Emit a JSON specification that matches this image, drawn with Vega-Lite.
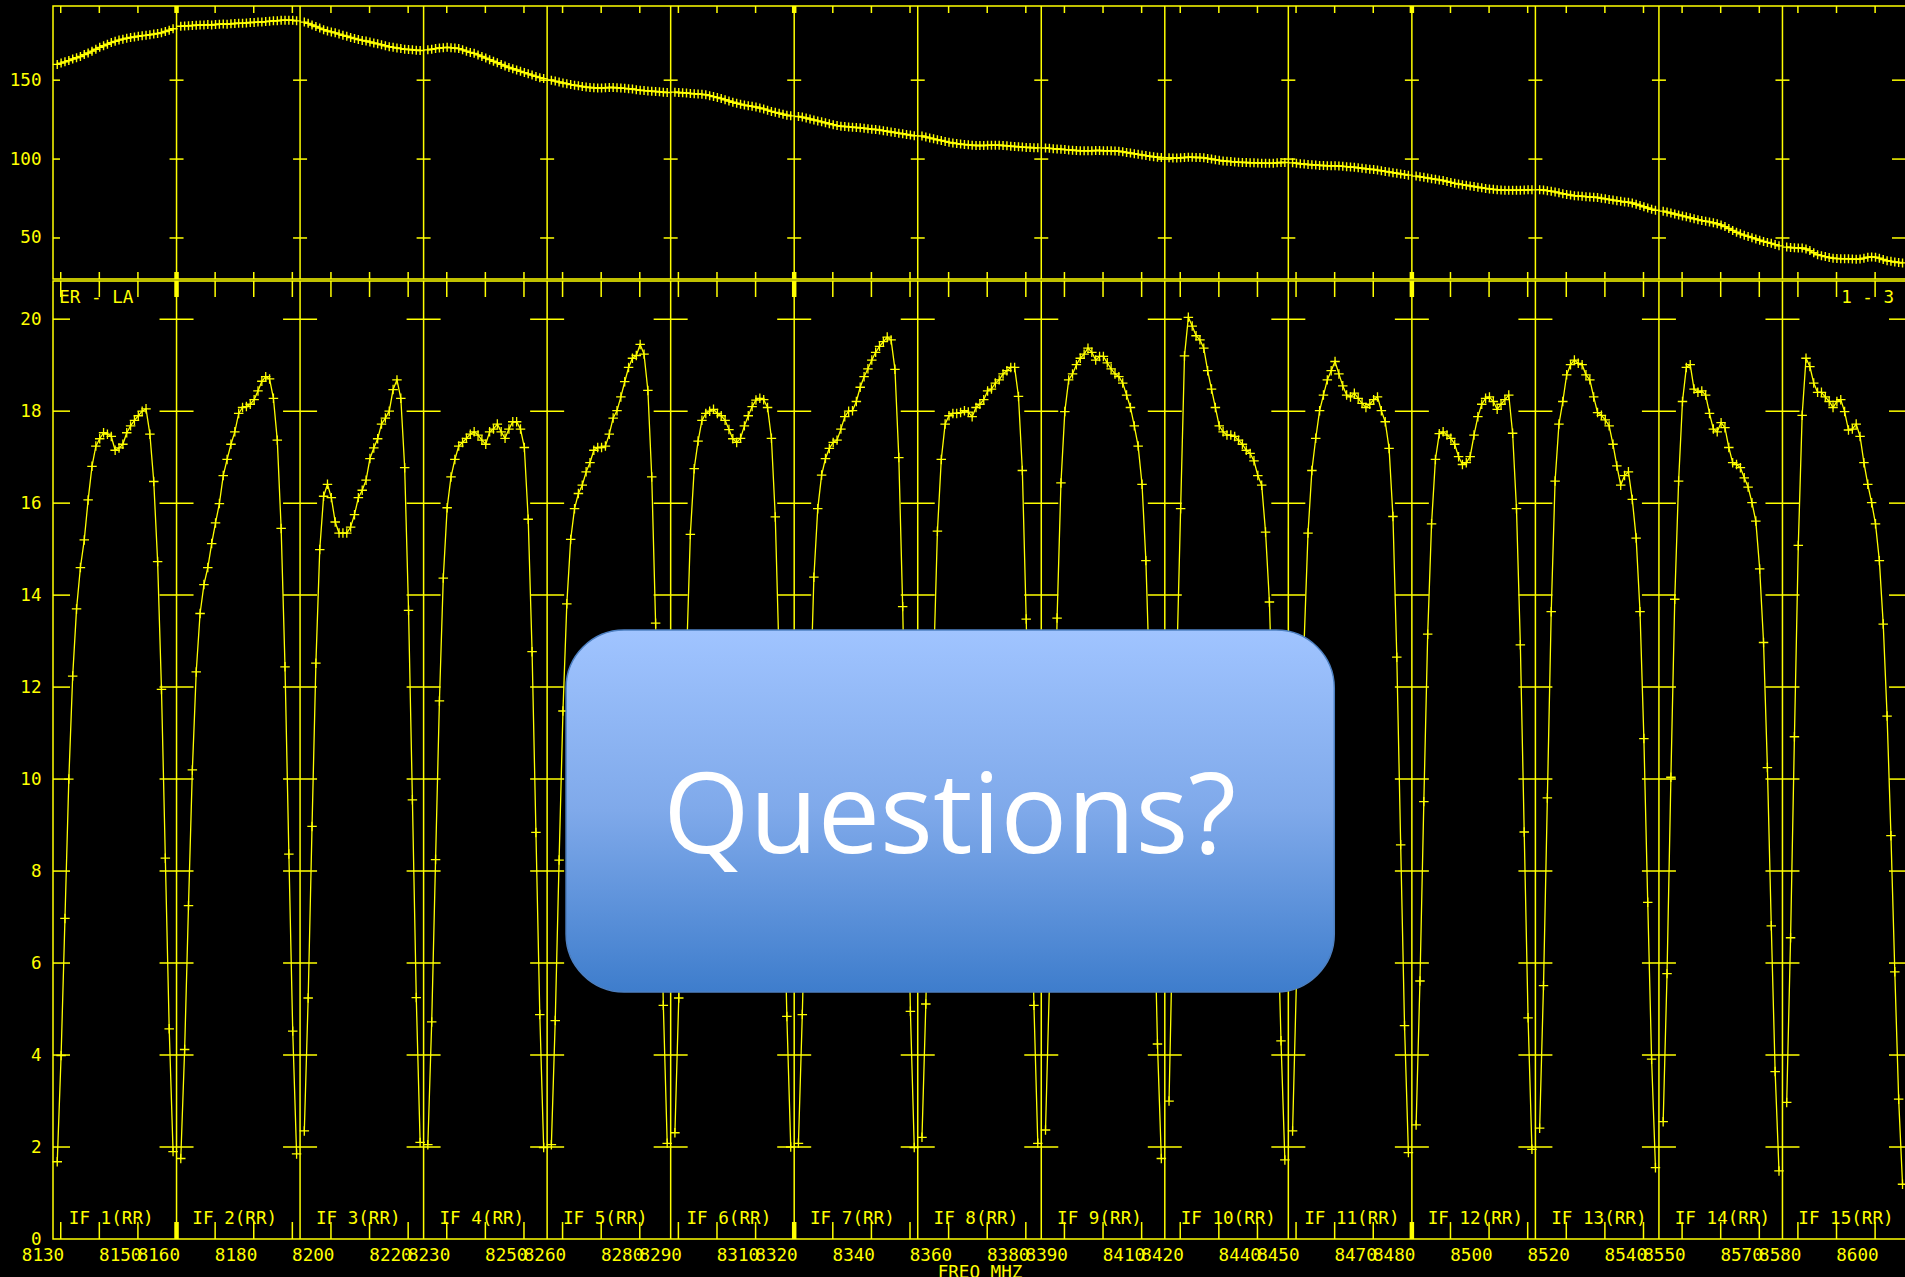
{
"$schema": "https://vega.github.io/schema/vega-lite/v6.json",
"background": "black",
"padding": {"left": 0, "top": 4, "right": 0, "bottom": 0},
"spacing": -6,
"config": {
  "view": {"stroke": "#ffff00", "strokeWidth": 1.5},
  "concat": {"spacing": -6},
  "axis": {"grid": false, "domain": false, "ticks": false, "tickSize": 0, "labelColor": "#ffff00", "labelFont": "DejaVu Sans Mono", "labelFontSize": 17.6, "titleColor": "#ffff00", "titleFont": "DejaVu Sans Mono", "titleFontSize": 17.6, "titleFontWeight": "normal", "labelOverlap": false, "labelFlush": false, "labelBound": false}
},
"datasets": {
  "bd": [{"x":8160},{"x":8192},{"x":8224},{"x":8256},{"x":8288},{"x":8320},{"x":8352},{"x":8384},{"x":8416},{"x":8448},{"x":8480},{"x":8512},{"x":8544},{"x":8576}],
  "xt": [{"x":8130},{"x":8140},{"x":8150},{"x":8160},{"x":8170},{"x":8180},{"x":8190},{"x":8200},{"x":8210},{"x":8220},{"x":8230},{"x":8240},{"x":8250},{"x":8260},{"x":8270},{"x":8280},{"x":8290},{"x":8300},{"x":8310},{"x":8320},{"x":8330},{"x":8340},{"x":8350},{"x":8360},{"x":8370},{"x":8380},{"x":8390},{"x":8400},{"x":8410},{"x":8420},{"x":8430},{"x":8440},{"x":8450},{"x":8460},{"x":8470},{"x":8480},{"x":8490},{"x":8500},{"x":8510},{"x":8520},{"x":8530},{"x":8540},{"x":8550},{"x":8560},{"x":8570},{"x":8580},{"x":8590},{"x":8600}],
  "maj": [{"x":8160},{"x":8320},{"x":8480}],
  "yct": [{"x":[8160,8192,8224,8256,8288,8320,8352,8384,8416,8448,8480,8512,8544,8576],"v":[50,100,150]}],
  "yclt": [{"x":8128,"v":[50,100,150]}],
  "ycrt": [{"x":8608,"v":[50,100,150]}],
  "ycb": [{"x":[8160,8192,8224,8256,8288,8320,8352,8384,8416,8448,8480,8512,8544,8576],"v":[2,4,6,8,10,12,14,16,18,20]}],
  "yclb": [{"x":8128,"v":[2,4,6,8,10,12,14,16,18,20]}],
  "ycrb": [{"x":8608,"v":[2,4,6,8,10,12,14,16,18,20]}],
  "ifl": [{"x":8132.1,"l":"IF 1(RR)"},{"x":8164.1,"l":"IF 2(RR)"},{"x":8196.1,"l":"IF 3(RR)"},{"x":8228.1,"l":"IF 4(RR)"},{"x":8260.1,"l":"IF 5(RR)"},{"x":8292.1,"l":"IF 6(RR)"},{"x":8324.1,"l":"IF 7(RR)"},{"x":8356.1,"l":"IF 8(RR)"},{"x":8388.1,"l":"IF 9(RR)"},{"x":8420.1,"l":"IF 10(RR)"},{"x":8452.1,"l":"IF 11(RR)"},{"x":8484.1,"l":"IF 12(RR)"},{"x":8516.1,"l":"IF 13(RR)"},{"x":8548.1,"l":"IF 14(RR)"},{"x":8580.1,"l":"IF 15(RR)"}],
  "cl": [{"x":8129.6,"l":"ER - LA"},{"x":8591.2,"l":"1 - 3"}],
  "box": [{"x":8260.9,"x2":8459.9,"y":5.37,"y2":13.24}],
  "qt": [{"x":8360.3,"y":8.4,"t":"Questions?"}],
  "spec": [
{"i":1,"x":8129.1,"a":1.68,"p":160.0},{"i":1,"x":8130.1,"a":3.99,"p":160.8},{"i":1,"x":8131.1,"a":6.97,"p":161.6},{"i":1,"x":8132.1,"a":10.0,"p":162.4},{"i":1,"x":8133.1,"a":12.24,"p":163.4},{"i":1,"x":8134.1,"a":13.7,"p":164.2},{"i":1,"x":8135.1,"a":14.6,"p":165.0},{"i":1,"x":8136.1,"a":15.2,"p":166.2},{"i":1,"x":8137.1,"a":16.07,"p":167.2},{"i":1,"x":8138.1,"a":16.8,"p":168.4},{"i":1,"x":8139.1,"a":17.24,"p":169.6},{"i":1,"x":8140.1,"a":17.4,"p":170.8},{"i":1,"x":8141.1,"a":17.53,"p":171.8},{"i":1,"x":8142.1,"a":17.5,"p":172.8},{"i":1,"x":8143.1,"a":17.45,"p":173.8},{"i":1,"x":8144.1,"a":17.15,"p":174.6},{"i":1,"x":8145.1,"a":17.2,"p":175.4},{"i":1,"x":8146.1,"a":17.28,"p":176.0},{"i":1,"x":8147.1,"a":17.53,"p":176.6},{"i":1,"x":8148.1,"a":17.68,"p":177.0},{"i":1,"x":8149.1,"a":17.8,"p":177.4},{"i":1,"x":8150.1,"a":17.9,"p":177.8},{"i":1,"x":8151.1,"a":18.0,"p":178.2},{"i":1,"x":8152.1,"a":18.05,"p":178.4},{"i":1,"x":8153.1,"a":17.5,"p":178.8},{"i":1,"x":8154.1,"a":16.47,"p":179.2},{"i":1,"x":8155.1,"a":14.73,"p":179.6},{"i":1,"x":8156.1,"a":11.95,"p":180.0},{"i":1,"x":8157.1,"a":8.28,"p":180.8},{"i":1,"x":8158.1,"a":4.57,"p":181.6},{"i":1,"x":8159.1,"a":1.9,"p":182.6},
{"i":2,"x":8161.1,"a":1.75,"p":184.2},{"i":2,"x":8162.1,"a":4.12,"p":184.4},{"i":2,"x":8163.1,"a":7.25,"p":184.5},{"i":2,"x":8164.1,"a":10.2,"p":184.6},{"i":2,"x":8165.1,"a":12.33,"p":184.8},{"i":2,"x":8166.1,"a":13.6,"p":184.9},{"i":2,"x":8167.1,"a":14.23,"p":185.0},{"i":2,"x":8168.1,"a":14.6,"p":185.2},{"i":2,"x":8169.1,"a":15.12,"p":185.0},{"i":2,"x":8170.1,"a":15.57,"p":185.3},{"i":2,"x":8171.1,"a":15.99,"p":185.5},{"i":2,"x":8172.1,"a":16.6,"p":185.6},{"i":2,"x":8173.1,"a":16.95,"p":185.4},{"i":2,"x":8174.1,"a":17.28,"p":185.7},{"i":2,"x":8175.1,"a":17.55,"p":185.9},{"i":2,"x":8176.1,"a":17.95,"p":186.1},{"i":2,"x":8177.1,"a":18.08,"p":186.0},{"i":2,"x":8178.1,"a":18.1,"p":186.3},{"i":2,"x":8179.1,"a":18.15,"p":186.5},{"i":2,"x":8180.1,"a":18.25,"p":186.6},{"i":2,"x":8181.1,"a":18.44,"p":186.8},{"i":2,"x":8182.1,"a":18.65,"p":186.9},{"i":2,"x":8183.1,"a":18.75,"p":187.1},{"i":2,"x":8184.1,"a":18.7,"p":187.4},{"i":2,"x":8185.1,"a":18.28,"p":187.6},{"i":2,"x":8186.1,"a":17.37,"p":187.7},{"i":2,"x":8187.1,"a":15.45,"p":187.9},{"i":2,"x":8188.1,"a":12.44,"p":188.0},{"i":2,"x":8189.1,"a":8.37,"p":188.0},{"i":2,"x":8190.1,"a":4.52,"p":187.9},{"i":2,"x":8191.1,"a":1.85,"p":187.6},
{"i":3,"x":8193.1,"a":2.35,"p":186.8},{"i":3,"x":8194.1,"a":5.24,"p":186.0},{"i":3,"x":8195.1,"a":8.97,"p":185.0},{"i":3,"x":8196.1,"a":12.52,"p":184.0},{"i":3,"x":8197.1,"a":14.99,"p":183.0},{"i":3,"x":8198.1,"a":16.15,"p":182.0},{"i":3,"x":8199.1,"a":16.41,"p":181.2},{"i":3,"x":8200.1,"a":16.12,"p":180.6},{"i":3,"x":8201.1,"a":15.59,"p":180.0},{"i":3,"x":8202.1,"a":15.35,"p":179.2},{"i":3,"x":8203.1,"a":15.35,"p":178.4},{"i":3,"x":8204.1,"a":15.35,"p":177.8},{"i":3,"x":8205.1,"a":15.48,"p":177.0},{"i":3,"x":8206.1,"a":15.75,"p":176.4},{"i":3,"x":8207.1,"a":16.12,"p":175.8},{"i":3,"x":8208.1,"a":16.28,"p":175.2},{"i":3,"x":8209.1,"a":16.5,"p":174.8},{"i":3,"x":8210.1,"a":16.97,"p":174.2},{"i":3,"x":8211.1,"a":17.2,"p":173.6},{"i":3,"x":8212.1,"a":17.4,"p":173.0},{"i":3,"x":8213.1,"a":17.72,"p":172.4},{"i":3,"x":8214.1,"a":17.85,"p":171.8},{"i":3,"x":8215.1,"a":18.0,"p":171.2},{"i":3,"x":8216.1,"a":18.47,"p":170.8},{"i":3,"x":8217.1,"a":18.68,"p":170.4},{"i":3,"x":8218.1,"a":18.28,"p":170.0},{"i":3,"x":8219.1,"a":16.77,"p":169.6},{"i":3,"x":8220.1,"a":13.67,"p":169.4},{"i":3,"x":8221.1,"a":9.55,"p":169.2},{"i":3,"x":8222.1,"a":5.25,"p":169.0},{"i":3,"x":8223.1,"a":2.1,"p":168.8},
{"i":4,"x":8225.1,"a":2.05,"p":169.2},{"i":4,"x":8226.1,"a":4.72,"p":169.6},{"i":4,"x":8227.1,"a":8.25,"p":170.0},{"i":4,"x":8228.1,"a":11.7,"p":170.4},{"i":4,"x":8229.1,"a":14.37,"p":170.6},{"i":4,"x":8230.1,"a":15.9,"p":170.8},{"i":4,"x":8231.1,"a":16.57,"p":170.6},{"i":4,"x":8232.1,"a":16.95,"p":170.4},{"i":4,"x":8233.1,"a":17.24,"p":170.0},{"i":4,"x":8234.1,"a":17.32,"p":169.2},{"i":4,"x":8235.1,"a":17.41,"p":168.4},{"i":4,"x":8236.1,"a":17.5,"p":167.6},{"i":4,"x":8237.1,"a":17.55,"p":167.0},{"i":4,"x":8238.1,"a":17.48,"p":166.0},{"i":4,"x":8239.1,"a":17.37,"p":165.0},{"i":4,"x":8240.1,"a":17.28,"p":164.0},{"i":4,"x":8241.1,"a":17.55,"p":163.0},{"i":4,"x":8242.1,"a":17.61,"p":162.0},{"i":4,"x":8243.1,"a":17.72,"p":161.0},{"i":4,"x":8244.1,"a":17.55,"p":160.0},{"i":4,"x":8245.1,"a":17.41,"p":159.0},{"i":4,"x":8246.1,"a":17.61,"p":158.0},{"i":4,"x":8247.1,"a":17.77,"p":157.2},{"i":4,"x":8248.1,"a":17.77,"p":156.4},{"i":4,"x":8249.1,"a":17.61,"p":155.6},{"i":4,"x":8250.1,"a":17.21,"p":154.8},{"i":4,"x":8251.1,"a":15.65,"p":154.0},{"i":4,"x":8252.1,"a":12.77,"p":153.2},{"i":4,"x":8253.1,"a":8.84,"p":152.4},{"i":4,"x":8254.1,"a":4.88,"p":151.6},{"i":4,"x":8255.1,"a":1.99,"p":151.0},
{"i":5,"x":8257.1,"a":2.05,"p":150.0},{"i":5,"x":8258.1,"a":4.75,"p":149.4},{"i":5,"x":8259.1,"a":8.24,"p":148.8},{"i":5,"x":8260.1,"a":11.48,"p":148.2},{"i":5,"x":8261.1,"a":13.81,"p":147.8},{"i":5,"x":8262.1,"a":15.21,"p":147.2},{"i":5,"x":8263.1,"a":15.88,"p":146.8},{"i":5,"x":8264.1,"a":16.21,"p":146.4},{"i":5,"x":8265.1,"a":16.39,"p":146.0},{"i":5,"x":8266.1,"a":16.68,"p":145.6},{"i":5,"x":8267.1,"a":16.88,"p":145.4},{"i":5,"x":8268.1,"a":17.15,"p":145.2},{"i":5,"x":8269.1,"a":17.21,"p":145.0},{"i":5,"x":8270.1,"a":17.21,"p":145.0},{"i":5,"x":8271.1,"a":17.24,"p":145.2},{"i":5,"x":8272.1,"a":17.5,"p":145.4},{"i":5,"x":8273.1,"a":17.85,"p":145.4},{"i":5,"x":8274.1,"a":18.01,"p":145.2},{"i":5,"x":8275.1,"a":18.31,"p":145.0},{"i":5,"x":8276.1,"a":18.64,"p":144.8},{"i":5,"x":8277.1,"a":18.95,"p":144.6},{"i":5,"x":8278.1,"a":19.15,"p":144.4},{"i":5,"x":8279.1,"a":19.21,"p":144.0},{"i":5,"x":8280.1,"a":19.45,"p":143.6},{"i":5,"x":8281.1,"a":19.24,"p":143.4},{"i":5,"x":8282.1,"a":18.45,"p":143.2},{"i":5,"x":8283.1,"a":16.57,"p":143.0},{"i":5,"x":8284.1,"a":13.39,"p":142.8},{"i":5,"x":8285.1,"a":9.48,"p":142.6},{"i":5,"x":8286.1,"a":5.08,"p":142.4},{"i":5,"x":8287.1,"a":2.08,"p":142.2},
{"i":6,"x":8289.1,"a":2.31,"p":142.4},{"i":6,"x":8290.1,"a":5.24,"p":142.2},{"i":6,"x":8291.1,"a":8.8,"p":142.0},{"i":6,"x":8292.1,"a":12.6,"p":141.8},{"i":6,"x":8293.1,"a":15.32,"p":141.6},{"i":6,"x":8294.1,"a":16.75,"p":141.4},{"i":6,"x":8295.1,"a":17.35,"p":141.2},{"i":6,"x":8296.1,"a":17.8,"p":141.0},{"i":6,"x":8297.1,"a":17.95,"p":140.8},{"i":6,"x":8298.1,"a":18.0,"p":140.2},{"i":6,"x":8299.1,"a":18.04,"p":139.6},{"i":6,"x":8300.1,"a":17.95,"p":139.0},{"i":6,"x":8301.1,"a":17.9,"p":138.4},{"i":6,"x":8302.1,"a":17.8,"p":137.6},{"i":6,"x":8303.1,"a":17.6,"p":136.8},{"i":6,"x":8304.1,"a":17.4,"p":136.0},{"i":6,"x":8305.1,"a":17.32,"p":135.4},{"i":6,"x":8306.1,"a":17.41,"p":134.8},{"i":6,"x":8307.1,"a":17.68,"p":134.2},{"i":6,"x":8308.1,"a":17.9,"p":133.8},{"i":6,"x":8309.1,"a":18.1,"p":133.4},{"i":6,"x":8310.1,"a":18.24,"p":133.0},{"i":6,"x":8311.1,"a":18.28,"p":132.4},{"i":6,"x":8312.1,"a":18.25,"p":131.8},{"i":6,"x":8313.1,"a":18.08,"p":131.0},{"i":6,"x":8314.1,"a":17.41,"p":130.2},{"i":6,"x":8315.1,"a":15.7,"p":129.6},{"i":6,"x":8316.1,"a":12.6,"p":129.0},{"i":6,"x":8317.1,"a":8.5,"p":128.4},{"i":6,"x":8318.1,"a":4.84,"p":127.8},{"i":6,"x":8319.1,"a":2.0,"p":127.4},
{"i":7,"x":8321.1,"a":2.08,"p":127.0},{"i":7,"x":8322.1,"a":4.88,"p":126.6},{"i":7,"x":8323.1,"a":8.3,"p":126.0},{"i":7,"x":8324.1,"a":11.5,"p":125.4},{"i":7,"x":8325.1,"a":14.39,"p":124.8},{"i":7,"x":8326.1,"a":15.88,"p":124.2},{"i":7,"x":8327.1,"a":16.61,"p":123.6},{"i":7,"x":8328.1,"a":16.97,"p":123.0},{"i":7,"x":8329.1,"a":17.19,"p":122.4},{"i":7,"x":8330.1,"a":17.32,"p":121.8},{"i":7,"x":8331.1,"a":17.37,"p":121.2},{"i":7,"x":8332.1,"a":17.61,"p":120.8},{"i":7,"x":8333.1,"a":17.88,"p":120.6},{"i":7,"x":8334.1,"a":18.0,"p":120.4},{"i":7,"x":8335.1,"a":18.01,"p":120.2},{"i":7,"x":8336.1,"a":18.21,"p":120.0},{"i":7,"x":8337.1,"a":18.52,"p":119.8},{"i":7,"x":8338.1,"a":18.75,"p":119.6},{"i":7,"x":8339.1,"a":18.92,"p":119.2},{"i":7,"x":8340.1,"a":19.11,"p":118.9},{"i":7,"x":8341.1,"a":19.28,"p":118.7},{"i":7,"x":8342.1,"a":19.41,"p":118.4},{"i":7,"x":8343.1,"a":19.51,"p":118.0},{"i":7,"x":8344.1,"a":19.61,"p":117.6},{"i":7,"x":8345.1,"a":19.55,"p":117.2},{"i":7,"x":8346.1,"a":18.91,"p":116.8},{"i":7,"x":8347.1,"a":16.99,"p":116.4},{"i":7,"x":8348.1,"a":13.75,"p":116.0},{"i":7,"x":8349.1,"a":9.5,"p":115.6},{"i":7,"x":8350.1,"a":4.95,"p":115.2},{"i":7,"x":8351.1,"a":1.99,"p":114.8},
{"i":8,"x":8353.1,"a":2.21,"p":114.6},{"i":8,"x":8354.1,"a":5.11,"p":114.0},{"i":8,"x":8355.1,"a":8.8,"p":113.4},{"i":8,"x":8356.1,"a":12.4,"p":112.8},{"i":8,"x":8357.1,"a":15.39,"p":112.2},{"i":8,"x":8358.1,"a":16.95,"p":111.8},{"i":8,"x":8359.1,"a":17.72,"p":111.2},{"i":8,"x":8360.1,"a":17.9,"p":110.6},{"i":8,"x":8361.1,"a":17.95,"p":110.2},{"i":8,"x":8362.1,"a":17.95,"p":109.8},{"i":8,"x":8363.1,"a":17.97,"p":109.5},{"i":8,"x":8364.1,"a":18.01,"p":109.2},{"i":8,"x":8365.1,"a":17.98,"p":109.0},{"i":8,"x":8366.1,"a":17.88,"p":108.8},{"i":8,"x":8367.1,"a":18.08,"p":108.6},{"i":8,"x":8368.1,"a":18.15,"p":108.6},{"i":8,"x":8369.1,"a":18.25,"p":108.6},{"i":8,"x":8370.1,"a":18.44,"p":108.7},{"i":8,"x":8371.1,"a":18.48,"p":108.8},{"i":8,"x":8372.1,"a":18.61,"p":108.8},{"i":8,"x":8373.1,"a":18.68,"p":108.8},{"i":8,"x":8374.1,"a":18.81,"p":108.6},{"i":8,"x":8375.1,"a":18.88,"p":108.4},{"i":8,"x":8376.1,"a":18.95,"p":108.2},{"i":8,"x":8377.1,"a":18.95,"p":108.0},{"i":8,"x":8378.1,"a":18.32,"p":107.8},{"i":8,"x":8379.1,"a":16.71,"p":107.6},{"i":8,"x":8380.1,"a":13.48,"p":107.4},{"i":8,"x":8381.1,"a":9.3,"p":107.3},{"i":8,"x":8382.1,"a":5.08,"p":107.2},{"i":8,"x":8383.1,"a":2.08,"p":107.1},
{"i":9,"x":8385.1,"a":2.37,"p":107.0},{"i":9,"x":8386.1,"a":5.5,"p":106.8},{"i":9,"x":8387.1,"a":9.0,"p":106.6},{"i":9,"x":8388.1,"a":13.5,"p":106.4},{"i":9,"x":8389.1,"a":16.44,"p":106.2},{"i":9,"x":8390.1,"a":17.99,"p":106.0},{"i":9,"x":8391.1,"a":18.68,"p":105.8},{"i":9,"x":8392.1,"a":18.81,"p":105.6},{"i":9,"x":8393.1,"a":19.01,"p":105.4},{"i":9,"x":8394.1,"a":19.15,"p":105.3},{"i":9,"x":8395.1,"a":19.24,"p":105.2},{"i":9,"x":8396.1,"a":19.37,"p":105.2},{"i":9,"x":8397.1,"a":19.28,"p":105.3},{"i":9,"x":8398.1,"a":19.11,"p":105.4},{"i":9,"x":8399.1,"a":19.19,"p":105.4},{"i":9,"x":8400.1,"a":19.19,"p":105.3},{"i":9,"x":8401.1,"a":19.05,"p":105.2},{"i":9,"x":8402.1,"a":18.92,"p":105.2},{"i":9,"x":8403.1,"a":18.81,"p":105.1},{"i":9,"x":8404.1,"a":18.75,"p":105.0},{"i":9,"x":8405.1,"a":18.61,"p":104.6},{"i":9,"x":8406.1,"a":18.35,"p":104.2},{"i":9,"x":8407.1,"a":18.08,"p":103.8},{"i":9,"x":8408.1,"a":17.68,"p":103.4},{"i":9,"x":8409.1,"a":17.24,"p":103.0},{"i":9,"x":8410.1,"a":16.41,"p":102.6},{"i":9,"x":8411.1,"a":14.75,"p":102.2},{"i":9,"x":8412.1,"a":12.0,"p":101.8},{"i":9,"x":8413.1,"a":8.0,"p":101.5},{"i":9,"x":8414.1,"a":4.24,"p":101.2},{"i":9,"x":8415.1,"a":1.75,"p":101.0},
{"i":10,"x":8417.1,"a":3.0,"p":100.8},{"i":10,"x":8418.1,"a":7.0,"p":100.6},{"i":10,"x":8419.1,"a":12.5,"p":100.6},{"i":10,"x":8420.1,"a":15.88,"p":100.8},{"i":10,"x":8421.1,"a":19.2,"p":101.0},{"i":10,"x":8422.1,"a":20.04,"p":101.2},{"i":10,"x":8423.1,"a":19.85,"p":101.2},{"i":10,"x":8424.1,"a":19.64,"p":101.0},{"i":10,"x":8425.1,"a":19.55,"p":101.0},{"i":10,"x":8426.1,"a":19.37,"p":100.8},{"i":10,"x":8427.1,"a":18.88,"p":100.4},{"i":10,"x":8428.1,"a":18.48,"p":100.0},{"i":10,"x":8429.1,"a":18.08,"p":99.6},{"i":10,"x":8430.1,"a":17.68,"p":99.2},{"i":10,"x":8431.1,"a":17.55,"p":98.8},{"i":10,"x":8432.1,"a":17.48,"p":98.6},{"i":10,"x":8433.1,"a":17.48,"p":98.4},{"i":10,"x":8434.1,"a":17.45,"p":98.2},{"i":10,"x":8435.1,"a":17.37,"p":98.0},{"i":10,"x":8436.1,"a":17.28,"p":97.9},{"i":10,"x":8437.1,"a":17.15,"p":97.8},{"i":10,"x":8438.1,"a":17.08,"p":97.7},{"i":10,"x":8439.1,"a":16.92,"p":97.6},{"i":10,"x":8440.1,"a":16.6,"p":97.5},{"i":10,"x":8441.1,"a":16.39,"p":97.4},{"i":10,"x":8442.1,"a":15.37,"p":97.4},{"i":10,"x":8443.1,"a":13.85,"p":97.3},{"i":10,"x":8444.1,"a":11.0,"p":97.4},{"i":10,"x":8445.1,"a":7.5,"p":97.6},{"i":10,"x":8446.1,"a":4.31,"p":97.8},{"i":10,"x":8447.1,"a":1.72,"p":97.8},
{"i":11,"x":8449.1,"a":2.35,"p":97.6},{"i":11,"x":8450.1,"a":5.6,"p":97.4},{"i":11,"x":8451.1,"a":9.5,"p":97.0},{"i":11,"x":8452.1,"a":13.0,"p":96.8},{"i":11,"x":8453.1,"a":15.35,"p":96.6},{"i":11,"x":8454.1,"a":16.71,"p":96.4},{"i":11,"x":8455.1,"a":17.41,"p":96.2},{"i":11,"x":8456.1,"a":18.01,"p":96.0},{"i":11,"x":8457.1,"a":18.35,"p":95.9},{"i":11,"x":8458.1,"a":18.68,"p":95.8},{"i":11,"x":8459.1,"a":18.88,"p":95.7},{"i":11,"x":8460.1,"a":19.08,"p":95.7},{"i":11,"x":8461.1,"a":18.81,"p":95.6},{"i":11,"x":8462.1,"a":18.55,"p":95.4},{"i":11,"x":8463.1,"a":18.35,"p":95.2},{"i":11,"x":8464.1,"a":18.31,"p":95.0},{"i":11,"x":8465.1,"a":18.39,"p":94.8},{"i":11,"x":8466.1,"a":18.28,"p":94.5},{"i":11,"x":8467.1,"a":18.17,"p":94.2},{"i":11,"x":8468.1,"a":18.08,"p":93.9},{"i":11,"x":8469.1,"a":18.15,"p":93.6},{"i":11,"x":8470.1,"a":18.25,"p":93.4},{"i":11,"x":8471.1,"a":18.31,"p":93.0},{"i":11,"x":8472.1,"a":18.01,"p":92.6},{"i":11,"x":8473.1,"a":17.77,"p":92.2},{"i":11,"x":8474.1,"a":17.19,"p":91.8},{"i":11,"x":8475.1,"a":15.71,"p":91.4},{"i":11,"x":8476.1,"a":12.65,"p":91.0},{"i":11,"x":8477.1,"a":8.57,"p":90.6},{"i":11,"x":8478.1,"a":4.64,"p":90.2},{"i":11,"x":8479.1,"a":1.88,"p":89.8},
{"i":12,"x":8481.1,"a":2.48,"p":89.2},{"i":12,"x":8482.1,"a":5.61,"p":88.8},{"i":12,"x":8483.1,"a":9.51,"p":88.4},{"i":12,"x":8484.1,"a":13.15,"p":88.0},{"i":12,"x":8485.1,"a":15.55,"p":87.6},{"i":12,"x":8486.1,"a":16.95,"p":87.2},{"i":12,"x":8487.1,"a":17.51,"p":86.8},{"i":12,"x":8488.1,"a":17.55,"p":86.4},{"i":12,"x":8489.1,"a":17.48,"p":85.8},{"i":12,"x":8490.1,"a":17.41,"p":85.2},{"i":12,"x":8491.1,"a":17.28,"p":84.6},{"i":12,"x":8492.1,"a":17.01,"p":84.2},{"i":12,"x":8493.1,"a":16.84,"p":83.8},{"i":12,"x":8494.1,"a":16.88,"p":83.4},{"i":12,"x":8495.1,"a":17.01,"p":83.0},{"i":12,"x":8496.1,"a":17.48,"p":82.6},{"i":12,"x":8497.1,"a":17.88,"p":82.2},{"i":12,"x":8498.1,"a":18.15,"p":81.8},{"i":12,"x":8499.1,"a":18.28,"p":81.4},{"i":12,"x":8500.1,"a":18.31,"p":81.1},{"i":12,"x":8501.1,"a":18.21,"p":80.8},{"i":12,"x":8502.1,"a":18.04,"p":80.6},{"i":12,"x":8503.1,"a":18.15,"p":80.4},{"i":12,"x":8504.1,"a":18.25,"p":80.3},{"i":12,"x":8505.1,"a":18.35,"p":80.2},{"i":12,"x":8506.1,"a":17.52,"p":80.2},{"i":12,"x":8507.1,"a":15.88,"p":80.2},{"i":12,"x":8508.1,"a":12.92,"p":80.3},{"i":12,"x":8509.1,"a":8.85,"p":80.4},{"i":12,"x":8510.1,"a":4.81,"p":80.5},{"i":12,"x":8511.1,"a":1.95,"p":80.5},
{"i":13,"x":8513.1,"a":2.41,"p":80.6},{"i":13,"x":8514.1,"a":5.51,"p":80.4},{"i":13,"x":8515.1,"a":9.59,"p":80.0},{"i":13,"x":8516.1,"a":13.64,"p":79.6},{"i":13,"x":8517.1,"a":16.48,"p":79.2},{"i":13,"x":8518.1,"a":17.72,"p":78.6},{"i":13,"x":8519.1,"a":18.21,"p":78.0},{"i":13,"x":8520.1,"a":18.79,"p":77.6},{"i":13,"x":8521.1,"a":19.01,"p":77.2},{"i":13,"x":8522.1,"a":19.11,"p":76.8},{"i":13,"x":8523.1,"a":19.04,"p":76.6},{"i":13,"x":8524.1,"a":19.01,"p":76.4},{"i":13,"x":8525.1,"a":18.79,"p":76.2},{"i":13,"x":8526.1,"a":18.68,"p":76.0},{"i":13,"x":8527.1,"a":18.31,"p":75.8},{"i":13,"x":8528.1,"a":17.97,"p":75.6},{"i":13,"x":8529.1,"a":17.91,"p":75.2},{"i":13,"x":8530.1,"a":17.81,"p":74.8},{"i":13,"x":8531.1,"a":17.68,"p":74.4},{"i":13,"x":8532.1,"a":17.28,"p":74.0},{"i":13,"x":8533.1,"a":16.81,"p":73.6},{"i":13,"x":8534.1,"a":16.39,"p":73.2},{"i":13,"x":8535.1,"a":16.6,"p":72.8},{"i":13,"x":8536.1,"a":16.68,"p":72.6},{"i":13,"x":8537.1,"a":16.08,"p":72.2},{"i":13,"x":8538.1,"a":15.24,"p":71.4},{"i":13,"x":8539.1,"a":13.64,"p":70.6},{"i":13,"x":8540.1,"a":10.88,"p":69.8},{"i":13,"x":8541.1,"a":7.32,"p":69.0},{"i":13,"x":8542.1,"a":3.91,"p":68.2},{"i":13,"x":8543.1,"a":1.55,"p":67.6},
{"i":14,"x":8545.1,"a":2.55,"p":67.0},{"i":14,"x":8546.1,"a":5.77,"p":66.4},{"i":14,"x":8547.1,"a":10.04,"p":65.8},{"i":14,"x":8548.1,"a":13.91,"p":65.2},{"i":14,"x":8549.1,"a":16.48,"p":64.6},{"i":14,"x":8550.1,"a":18.21,"p":64.0},{"i":14,"x":8551.1,"a":18.95,"p":63.4},{"i":14,"x":8552.1,"a":19.01,"p":62.8},{"i":14,"x":8553.1,"a":18.48,"p":62.2},{"i":14,"x":8554.1,"a":18.41,"p":61.6},{"i":14,"x":8555.1,"a":18.44,"p":61.0},{"i":14,"x":8556.1,"a":18.35,"p":60.6},{"i":14,"x":8557.1,"a":17.95,"p":60.2},{"i":14,"x":8558.1,"a":17.61,"p":59.6},{"i":14,"x":8559.1,"a":17.55,"p":59.0},{"i":14,"x":8560.1,"a":17.75,"p":58.2},{"i":14,"x":8561.1,"a":17.64,"p":57.2},{"i":14,"x":8562.1,"a":17.21,"p":56.0},{"i":14,"x":8563.1,"a":16.88,"p":54.8},{"i":14,"x":8564.1,"a":16.84,"p":53.6},{"i":14,"x":8565.1,"a":16.77,"p":52.6},{"i":14,"x":8566.1,"a":16.55,"p":51.8},{"i":14,"x":8567.1,"a":16.35,"p":51.0},{"i":14,"x":8568.1,"a":16.01,"p":50.2},{"i":14,"x":8569.1,"a":15.61,"p":49.4},{"i":14,"x":8570.1,"a":14.57,"p":48.6},{"i":14,"x":8571.1,"a":12.97,"p":47.8},{"i":14,"x":8572.1,"a":10.25,"p":47.2},{"i":14,"x":8573.1,"a":6.81,"p":46.6},{"i":14,"x":8574.1,"a":3.64,"p":45.8},{"i":14,"x":8575.1,"a":1.48,"p":45.0},
{"i":15,"x":8577.1,"a":2.97,"p":44.2},{"i":15,"x":8578.1,"a":6.55,"p":44.0},{"i":15,"x":8579.1,"a":10.92,"p":43.8},{"i":15,"x":8580.1,"a":15.08,"p":43.7},{"i":15,"x":8581.1,"a":17.91,"p":43.6},{"i":15,"x":8582.1,"a":19.15,"p":43.0},{"i":15,"x":8583.1,"a":18.97,"p":42.0},{"i":15,"x":8584.1,"a":18.61,"p":40.6},{"i":15,"x":8585.1,"a":18.41,"p":39.4},{"i":15,"x":8586.1,"a":18.41,"p":38.8},{"i":15,"x":8587.1,"a":18.31,"p":38.2},{"i":15,"x":8588.1,"a":18.21,"p":37.6},{"i":15,"x":8589.1,"a":18.08,"p":37.2},{"i":15,"x":8590.1,"a":18.21,"p":37.0},{"i":15,"x":8591.1,"a":18.25,"p":36.9},{"i":15,"x":8592.1,"a":17.99,"p":36.8},{"i":15,"x":8593.1,"a":17.59,"p":36.8},{"i":15,"x":8594.1,"a":17.61,"p":36.6},{"i":15,"x":8595.1,"a":17.72,"p":36.5},{"i":15,"x":8596.1,"a":17.45,"p":36.6},{"i":15,"x":8597.1,"a":16.88,"p":37.2},{"i":15,"x":8598.1,"a":16.41,"p":37.8},{"i":15,"x":8599.1,"a":16.01,"p":38.0},{"i":15,"x":8600.1,"a":15.55,"p":37.8},{"i":15,"x":8601.1,"a":14.75,"p":37.2},{"i":15,"x":8602.1,"a":13.37,"p":36.4},{"i":15,"x":8603.1,"a":11.37,"p":35.6},{"i":15,"x":8604.1,"a":8.77,"p":35.2},{"i":15,"x":8605.1,"a":5.81,"p":34.8},{"i":15,"x":8606.1,"a":3.04,"p":34.5},{"i":15,"x":8607.1,"a":1.19,"p":34.2}
  ]
},
"vconcat": [
  {
    "width": 1853,
    "height": 273,
    "encoding": {"x": {"field": "x", "type": "quantitative", "scale": {"domain": [8128, 8608], "nice": false, "zero": false}, "axis": null}},
    "layer": [
      {"data": {"name": "bd"}, "mark": {"type": "rule", "color": "#ffff00", "strokeWidth": 1.5}, "encoding": {}},
      {"data": {"name": "xt"}, "mark": {"type": "tick", "orient": "vertical", "size": 7, "yOffset": 3.5, "thickness": 1.5, "color": "#ffff00", "opacity": 1},
       "encoding": {"y": {"datum": 197, "type": "quantitative", "scale": {"domain": [24, 197], "nice": false, "zero": false}, "axis": {"title": null}}}},
      {"data": {"name": "xt"}, "mark": {"type": "tick", "orient": "vertical", "size": 7, "yOffset": -3.5, "thickness": 1.5, "color": "#ffff00", "opacity": 1},
       "encoding": {"y": {"datum": 24, "type": "quantitative", "axis": {"title": null}}}},
      {"data": {"name": "maj"}, "mark": {"type": "tick", "orient": "vertical", "size": 7, "yOffset": 3.5, "thickness": 4.5, "color": "#ffff00", "opacity": 1},
       "encoding": {"y": {"datum": 197, "type": "quantitative", "axis": {"title": null}}}},
      {"data": {"name": "maj"}, "mark": {"type": "tick", "orient": "vertical", "size": 7, "yOffset": -3.5, "thickness": 4.5, "color": "#ffff00", "opacity": 1},
       "encoding": {"y": {"datum": 24, "type": "quantitative", "axis": {"title": null}}}},
      {"data": {"name": "yct"}, "transform": [{"flatten": ["x"]}, {"flatten": ["v"]}],
       "mark": {"type": "tick", "orient": "horizontal", "size": 14, "thickness": 1.5, "color": "#ffff00", "opacity": 1},
       "encoding": {"y": {"field": "v", "type": "quantitative", "axis": {"title": null}}}},
      {"data": {"name": "yclt"}, "transform": [{"flatten": ["v"]}],
       "mark": {"type": "tick", "orient": "horizontal", "size": 7, "xOffset": 3.5, "thickness": 1.5, "color": "#ffff00", "opacity": 1},
       "encoding": {"y": {"field": "v", "type": "quantitative", "axis": {"title": null}}}},
      {"data": {"name": "ycrt"}, "transform": [{"flatten": ["v"]}],
       "mark": {"type": "tick", "orient": "horizontal", "size": 14, "xOffset": -7, "thickness": 1.5, "color": "#ffff00", "opacity": 1},
       "encoding": {"y": {"field": "v", "type": "quantitative", "axis": {"title": null}}}},
      {"data": {"name": "spec"}, "mark": {"type": "line", "color": "#ffff00", "strokeWidth": 1.5},
       "encoding": {"y": {"field": "p", "type": "quantitative", "scale": {"domain": [24, 197], "nice": false, "zero": false},
                          "axis": {"values": [50, 100, 150], "title": null, "labelPadding": 12, "minExtent": 52, "maxExtent": 52}},
                    "detail": {"field": "i"}}},
      {"data": {"name": "spec"}, "mark": {"type": "point", "shape": "M-1,0H1M0,-1V1", "filled": false, "color": "#ffff00", "strokeWidth": 1.4, "size": 81, "opacity": 1},
       "encoding": {"y": {"field": "p", "type": "quantitative", "axis": {"title": null}}}}
    ]
  },
  {
    "width": 1853,
    "height": 958,
    "encoding": {"x": {"field": "x", "type": "quantitative", "scale": {"domain": [8128, 8608], "nice": false, "zero": false},
       "axis": {"values": [8130,8150,8160,8180,8200,8220,8230,8250,8260,8280,8290,8310,8320,8340,8360,8380,8390,8410,8420,8440,8450,8470,8480,8500,8520,8540,8550,8570,8580,8600],
                "format": "d", "labelAlign": "right", "labelOffset": 3, "labelPadding": 7, "labelBaseline": "top", "title": "FREQ MHZ", "titlePadding": 0}}},
    "layer": [
      {"data": {"name": "bd"}, "mark": {"type": "rule", "color": "#ffff00", "strokeWidth": 1.5}, "encoding": {}},
      {"data": {"name": "xt"}, "mark": {"type": "tick", "orient": "vertical", "size": 16, "yOffset": 8, "thickness": 1.5, "color": "#ffff00", "opacity": 1},
       "encoding": {"y": {"datum": 20.83, "type": "quantitative", "scale": {"domain": [0, 20.83], "nice": false, "zero": false}, "axis": {"title": null}}}},
      {"data": {"name": "xt"}, "mark": {"type": "tick", "orient": "vertical", "size": 17, "yOffset": -8.5, "thickness": 1.5, "color": "#ffff00", "opacity": 1},
       "encoding": {"y": {"datum": 0, "type": "quantitative", "axis": {"title": null}}}},
      {"data": {"name": "maj"}, "mark": {"type": "tick", "orient": "vertical", "size": 16, "yOffset": 8, "thickness": 4.5, "color": "#ffff00", "opacity": 1},
       "encoding": {"y": {"datum": 20.83, "type": "quantitative", "axis": {"title": null}}}},
      {"data": {"name": "maj"}, "mark": {"type": "tick", "orient": "vertical", "size": 17, "yOffset": -8.5, "thickness": 4.5, "color": "#ffff00", "opacity": 1},
       "encoding": {"y": {"datum": 0, "type": "quantitative", "axis": {"title": null}}}},
      {"data": {"name": "ycb"}, "transform": [{"flatten": ["x"]}, {"flatten": ["v"]}],
       "mark": {"type": "tick", "orient": "horizontal", "size": 34, "thickness": 1.5, "color": "#ffff00", "opacity": 1},
       "encoding": {"y": {"field": "v", "type": "quantitative", "axis": {"title": null}}}},
      {"data": {"name": "yclb"}, "transform": [{"flatten": ["v"]}],
       "mark": {"type": "tick", "orient": "horizontal", "size": 17, "xOffset": 8.5, "thickness": 1.5, "color": "#ffff00", "opacity": 1},
       "encoding": {"y": {"field": "v", "type": "quantitative", "axis": {"title": null}}}},
      {"data": {"name": "ycrb"}, "transform": [{"flatten": ["v"]}],
       "mark": {"type": "tick", "orient": "horizontal", "size": 17, "xOffset": -8.5, "thickness": 1.5, "color": "#ffff00", "opacity": 1},
       "encoding": {"y": {"field": "v", "type": "quantitative", "axis": {"title": null}}}},
      {"data": {"name": "spec"}, "mark": {"type": "line", "color": "#ffff00", "strokeWidth": 1.3},
       "encoding": {"y": {"field": "a", "type": "quantitative", "scale": {"domain": [0, 20.83], "nice": false, "zero": false},
                          "axis": {"values": [0, 2, 4, 6, 8, 10, 12, 14, 16, 18, 20], "title": null, "labelPadding": 12, "minExtent": 52, "maxExtent": 52}},
                    "detail": {"field": "i"}}},
      {"data": {"name": "spec"}, "mark": {"type": "point", "shape": "M-1,0H1M0,-1V1", "filled": false, "color": "#ffff00", "strokeWidth": 1.3, "size": 90, "opacity": 1},
       "encoding": {"y": {"field": "a", "type": "quantitative", "axis": {"title": null}}}},
      {"data": {"name": "ifl"}, "mark": {"type": "text", "align": "left", "baseline": "alphabetic", "font": "DejaVu Sans Mono", "fontSize": 17.6, "color": "#ffff00"},
       "encoding": {"y": {"datum": 0.33, "type": "quantitative", "axis": {"title": null}}, "text": {"field": "l"}}},
      {"data": {"name": "cl"}, "mark": {"type": "text", "align": "left", "baseline": "alphabetic", "font": "DejaVu Sans Mono", "fontSize": 17.6, "color": "#ffff00"},
       "encoding": {"y": {"datum": 20.35, "type": "quantitative", "axis": {"title": null}}, "text": {"field": "l"}}},
      {"data": {"name": "box"}, "mark": {"type": "rect", "cornerRadius": 58, "stroke": "#4d80c2", "strokeWidth": 1.5,
         "fill": {"gradient": "linear", "x1": 0, "y1": 0, "x2": 0, "y2": 1, "stops": [{"offset": 0, "color": "#a0c4ff"}, {"offset": 0.5, "color": "#7fa9ea"}, {"offset": 1, "color": "#3e7dcc"}]}},
       "encoding": {"x2": {"field": "x2"}, "y": {"field": "y", "type": "quantitative", "axis": {"title": null}}, "y2": {"field": "y2"}}},
      {"data": {"name": "qt"}, "mark": {"type": "text", "align": "center", "baseline": "alphabetic", "font": "Open Sans", "fontSize": 111, "color": "#ffffff"},
       "encoding": {"y": {"field": "y", "type": "quantitative", "axis": {"title": null}}, "text": {"field": "t"}}}
    ]
  }
]
}
